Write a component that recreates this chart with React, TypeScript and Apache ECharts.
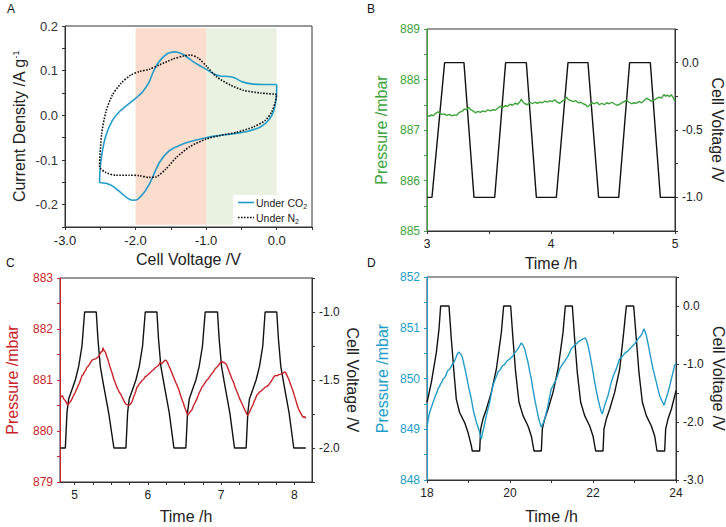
import React, { useEffect, useRef } from 'react';
import * as echarts from 'echarts';

// ---------- Panel A: cyclic voltammetry ----------
const cvCO2: number[][] = [
  [0.0, 0.069], [-0.2, 0.069], [-0.38, 0.071], [-0.5, 0.076], [-0.6, 0.084], [-0.69, 0.087],
  [-0.8, 0.088], [-0.88, 0.092], [-1.0, 0.103], [-1.1, 0.112], [-1.19, 0.121], [-1.3, 0.134],
  [-1.38, 0.140], [-1.45, 0.142], [-1.52, 0.140], [-1.57, 0.136], [-1.63, 0.127], [-1.69, 0.115],
  [-1.75, 0.097], [-1.81, 0.074], [-1.9, 0.053], [-2.0, 0.038], [-2.11, 0.024], [-2.23, 0.008],
  [-2.33, -0.012], [-2.42, -0.045], [-2.47, -0.080], [-2.5, -0.115], [-2.51, -0.150],
  [-2.42, -0.152], [-2.33, -0.158], [-2.21, -0.173], [-2.11, -0.186], [-2.04, -0.190],
  [-1.97, -0.188], [-1.88, -0.173], [-1.81, -0.155], [-1.76, -0.139], [-1.66, -0.105],
  [-1.52, -0.079], [-1.33, -0.064], [-1.14, -0.055], [-1.0, -0.050], [-0.85, -0.046],
  [-0.61, -0.041], [-0.42, -0.036], [-0.23, -0.026], [-0.11, -0.010], [-0.04, 0.011],
  [-0.005, 0.041], [0.0, 0.069],
];
const cvN2: number[][] = [
  [0.0, 0.047], [-0.23, 0.050], [-0.47, 0.056], [-0.66, 0.068], [-0.85, 0.086], [-0.99, 0.109],
  [-1.11, 0.128], [-1.22, 0.135], [-1.32, 0.133], [-1.47, 0.126], [-1.66, 0.113], [-1.81, 0.103],
  [-1.95, 0.098], [-2.07, 0.090], [-2.21, 0.071], [-2.33, 0.045], [-2.42, 0.008], [-2.48, -0.041],
  [-2.51, -0.115], [-2.42, -0.128], [-2.28, -0.134], [-2.09, -0.134], [-1.95, -0.135],
  [-1.81, -0.139], [-1.71, -0.138], [-1.57, -0.120], [-1.42, -0.094], [-1.23, -0.070],
  [-1.0, -0.053], [-0.8, -0.045], [-0.57, -0.038], [-0.33, -0.026], [-0.16, -0.011],
  [-0.07, 0.008], [-0.02, 0.030], [0.0, 0.047],
];
const aXTicks = [-3, -2.5, -2, -1.5, -1, -0.5, 0, 0.5];
const aXLabels = [-3, -2, -1, 0];
const aYTicks = [-0.25, -0.2, -0.15, -0.1, -0.05, 0, 0.05, 0.1, 0.15, 0.2];
const aYLabels = [-0.2, -0.1, 0, 0.1, 0.2];
const aLegend = ['Under CO{sub|2}', 'Under N{sub|2}'];

// ---------- Panel B ----------
const bVoltage: number[][] = [
  [3.0, -1], [3.04, -1], [3.142, 0], [3.298, 0], [3.379, -1], [3.546, -1], [3.634, 0], [3.801, 0],
  [3.882, -1], [4.043, -1], [4.137, 0], [4.298, 0], [4.384, -1], [4.546, -1], [4.634, 0],
  [4.801, 0], [4.882, -1], [5.0, -1],
];
const bPressure: number[][] = [
  [3.00, 887.29], [3.02, 887.27], [3.035, 887.30], [3.05, 887.28], [3.07, 887.33], [3.09, 887.36],
  [3.10, 887.34], [3.12, 887.31], [3.14, 887.32], [3.16, 887.29], [3.18, 887.31], [3.20, 887.28],
  [3.22, 887.30], [3.24, 887.29], [3.255, 887.34], [3.27, 887.36], [3.29, 887.38], [3.30, 887.42],
  [3.32, 887.40], [3.335, 887.45], [3.35, 887.41], [3.37, 887.38], [3.39, 887.34], [3.41, 887.37],
  [3.43, 887.35], [3.45, 887.38], [3.47, 887.36], [3.49, 887.40], [3.51, 887.38], [3.53, 887.40],
  [3.55, 887.39], [3.57, 887.43], [3.59, 887.47], [3.61, 887.44], [3.63, 887.48], [3.65, 887.47],
  [3.67, 887.51], [3.69, 887.49], [3.71, 887.53], [3.73, 887.51], [3.75, 887.56], [3.76, 887.61],
  [3.775, 887.55], [3.79, 887.52], [3.81, 887.50], [3.83, 887.55], [3.85, 887.52], [3.87, 887.55],
  [3.89, 887.53], [3.91, 887.55], [3.93, 887.54], [3.95, 887.57], [3.97, 887.55], [3.99, 887.58],
  [4.01, 887.56], [4.03, 887.60], [4.05, 887.55], [4.07, 887.53], [4.09, 887.57], [4.11, 887.60],
  [4.125, 887.65], [4.14, 887.60], [4.16, 887.58], [4.18, 887.56], [4.20, 887.58], [4.22, 887.54],
  [4.24, 887.55], [4.26, 887.52], [4.28, 887.50], [4.295, 887.46], [4.31, 887.49], [4.33, 887.54],
  [4.35, 887.52], [4.37, 887.55], [4.39, 887.50], [4.41, 887.53], [4.43, 887.50], [4.45, 887.54],
  [4.47, 887.52], [4.49, 887.55], [4.51, 887.52], [4.53, 887.49], [4.555, 887.51], [4.57, 887.54],
  [4.59, 887.56], [4.61, 887.59], [4.63, 887.55], [4.65, 887.52], [4.67, 887.54], [4.69, 887.53],
  [4.71, 887.56], [4.73, 887.54], [4.75, 887.58], [4.77, 887.63], [4.79, 887.60], [4.81, 887.57],
  [4.83, 887.59], [4.85, 887.62], [4.87, 887.65], [4.89, 887.63], [4.91, 887.70], [4.925, 887.67],
  [4.94, 887.69], [4.955, 887.66], [4.97, 887.70], [4.985, 887.64], [5.00, 887.57],
];
const bXTicks = [3, 3.5, 4, 4.5, 5];
const bXLabels = [3, 4, 5];
const bPTicks = [885, 885.5, 886, 886.5, 887, 887.5, 888, 888.5, 889];
const bPLabels = [885, 886, 887, 888, 889];
const bVTicks = [-1.25, -1, -0.75, -0.5, -0.25, 0, 0.25];
const bVLabels = [-1, -0.5, 0];

// ---------- Panel C ----------
const cVoltage: number[][] = [
  [4.805, -2.0], [4.873, -2.0], [4.895, -1.74], [4.918, -1.64], [4.964, -1.57], [5.009, -1.50],
  [5.055, -1.40], [5.1, -1.25], [5.136, -1.0], [5.295, -1.0], [5.318, -1.20], [5.35, -1.40],
  [5.395, -1.54], [5.464, -1.74], [5.536, -2.0], [5.70, -2.0],
  [5.723, -1.74], [5.745, -1.64], [5.791, -1.57], [5.836, -1.50], [5.882, -1.40], [5.927, -1.25],
  [5.964, -1.0], [6.123, -1.0], [6.145, -1.2], [6.177, -1.4], [6.223, -1.54], [6.291, -1.74],
  [6.355, -2.0], [6.518, -2.0],
  [6.541, -1.74], [6.564, -1.64], [6.609, -1.57], [6.655, -1.5], [6.7, -1.4], [6.745, -1.25],
  [6.782, -1.0], [6.95, -1.0], [6.973, -1.2], [7.005, -1.4], [7.05, -1.54], [7.118, -1.74],
  [7.182, -2.0], [7.341, -2.0],
  [7.364, -1.74], [7.386, -1.64], [7.432, -1.57], [7.477, -1.5], [7.523, -1.4], [7.568, -1.25],
  [7.6, -1.0], [7.759, -1.0], [7.782, -1.2], [7.814, -1.4], [7.859, -1.54], [7.927, -1.74],
  [7.991, -2.0], [8.155, -2.0],
];
const cPressure: number[][] = [
  [4.805, 880.70], [4.82, 880.67], [4.835, 880.69], [4.85, 880.63], [4.87, 880.60], [4.89, 880.55],
  [4.909, 880.50], [4.93, 880.56], [4.945, 880.58], [4.964, 880.63], [4.98, 880.68], [4.99, 880.71],
  [5.01, 880.76], [5.02, 880.80], [5.032, 880.83], [5.05, 880.90], [5.06, 880.92], [5.08, 881.00],
  [5.09, 881.04], [5.1, 881.09], [5.115, 881.10], [5.13, 881.15], [5.15, 881.19], [5.168, 881.25],
  [5.185, 881.27], [5.2, 881.30], [5.22, 881.35], [5.236, 881.39], [5.255, 881.40], [5.27, 881.41],
  [5.29, 881.42], [5.305, 881.43], [5.32, 881.45], [5.33, 881.47], [5.35, 881.52], [5.365, 881.56],
  [5.375, 881.55], [5.386, 881.63], [5.395, 881.60], [5.40, 881.58], [5.418, 881.55], [5.43, 881.50],
  [5.44, 881.45], [5.455, 881.40], [5.464, 881.35], [5.48, 881.27], [5.50, 881.18], [5.515, 881.12],
  [5.532, 881.03], [5.555, 880.94], [5.577, 880.86], [5.59, 880.82], [5.61, 880.76], [5.63, 880.72],
  [5.645, 880.67], [5.67, 880.60], [5.691, 880.54], [5.71, 880.52], [5.736, 880.50], [5.76, 880.52],
  [5.782, 880.57], [5.80, 880.65], [5.82, 880.72], [5.835, 880.78], [5.85, 880.86], [5.865, 880.88],
  [5.88, 880.92], [5.9, 880.95], [5.918, 880.99], [5.94, 881.01], [5.96, 881.06], [5.985, 881.08],
  [6.009, 881.12], [6.03, 881.14], [6.05, 881.17], [6.075, 881.20], [6.1, 881.24], [6.12, 881.26],
  [6.14, 881.28], [6.155, 881.31], [6.168, 881.35], [6.185, 881.32], [6.20, 881.33], [6.22, 881.37],
  [6.236, 881.39], [6.25, 881.38], [6.26, 881.36], [6.272, 881.33], [6.282, 881.29], [6.31, 881.20],
  [6.33, 881.13], [6.35, 881.06], [6.38, 880.95], [6.40, 880.89], [6.418, 880.83], [6.45, 880.68],
  [6.47, 880.60], [6.486, 880.54], [6.5, 880.47], [6.515, 880.42], [6.53, 880.36], [6.545, 880.31],
  [6.56, 880.34], [6.57, 880.36], [6.585, 880.39], [6.6, 880.41], [6.615, 880.47], [6.63, 880.52],
  [6.65, 880.57], [6.668, 880.63], [6.685, 880.69], [6.70, 880.75], [6.72, 880.80], [6.736, 880.86],
  [6.76, 880.90], [6.78, 880.95], [6.80, 880.99], [6.827, 881.03], [6.85, 881.08], [6.87, 881.12],
  [6.895, 881.16], [6.918, 881.22], [6.94, 881.25], [6.96, 881.28], [6.985, 881.33], [7.009, 881.37],
  [7.025, 881.34], [7.04, 881.35], [7.06, 881.32], [7.077, 881.29], [7.095, 881.22], [7.11, 881.16],
  [7.13, 881.09], [7.145, 881.03], [7.17, 880.95], [7.19, 880.86], [7.21, 880.79], [7.236, 880.70],
  [7.25, 880.64], [7.27, 880.58], [7.29, 880.52], [7.305, 880.47], [7.32, 880.42], [7.335, 880.38],
  [7.35, 880.33], [7.364, 880.31], [7.38, 880.35], [7.39, 880.38], [7.405, 880.43], [7.418, 880.47],
  [7.435, 880.52], [7.45, 880.58], [7.47, 880.64], [7.486, 880.70], [7.50, 880.72], [7.52, 880.76],
  [7.535, 880.77], [7.555, 880.80], [7.58, 880.83], [7.60, 880.86], [7.62, 880.87], [7.645, 880.90],
  [7.665, 880.94], [7.69, 880.99], [7.71, 881.04], [7.736, 881.09], [7.76, 881.08], [7.78, 881.10],
  [7.80, 881.11], [7.827, 881.12], [7.85, 881.14], [7.873, 881.16], [7.885, 881.13], [7.895, 881.10],
  [7.918, 881.03], [7.935, 880.97], [7.95, 880.90], [7.97, 880.83], [7.986, 880.76], [8.0, 880.69],
  [8.02, 880.60], [8.035, 880.52], [8.055, 880.44], [8.07, 880.39], [8.09, 880.34], [8.105, 880.30],
  [8.123, 880.27], [8.14, 880.28], [8.155, 880.25],
];
const cXTicks = [5, 5.25, 5.5, 5.75, 6, 6.25, 6.5, 6.75, 7, 7.25, 7.5, 7.75, 8];
const cXLabels = [5, 6, 7, 8];
const cPTicks = [879, 879.5, 880, 880.5, 881, 881.5, 882, 882.5, 883];
const cPLabels = [879, 880, 881, 882, 883];
const cVTicks = [-2.25, -2, -1.75, -1.5, -1.25, -1, -0.75];
const cVLabels = [-2, -1.5, -1];

// ---------- Panel D ----------
const dVoltage: number[][] = [
  [18.0, -1.66], [18.104, -1.32], [18.225, -0.80], [18.289, -0.40], [18.329, 0], [18.53, 0],
  [18.586, -0.57], [18.651, -1.15], [18.707, -1.61], [18.787, -1.84], [18.908, -2.01],
  [18.988, -2.18], [19.068, -2.41], [19.092, -2.5], [19.269, -2.5],
  [19.293, -2.12], [19.349, -1.95], [19.43, -1.78], [19.55, -1.49], [19.671, -1.09],
  [19.791, -0.46], [19.847, 0], [20.016, 0], [20.072, -0.57], [20.137, -1.15], [20.217, -1.66],
  [20.313, -1.89], [20.434, -2.07], [20.514, -2.24], [20.578, -2.5], [20.755, -2.5],
  [20.779, -2.12], [20.835, -1.95], [20.916, -1.78], [21.036, -1.49], [21.157, -1.09],
  [21.277, -0.46], [21.333, 0], [21.502, 0], [21.558, -0.57], [21.622, -1.15], [21.703, -1.66],
  [21.799, -1.89], [21.92, -2.07], [22.0, -2.24], [22.064, -2.5], [22.241, -2.5],
  [22.265, -2.12], [22.321, -1.95], [22.402, -1.78], [22.522, -1.49], [22.643, -1.09],
  [22.739, -0.46], [22.803, 0], [22.98, 0], [23.044, -0.57], [23.108, -1.15], [23.189, -1.66],
  [23.285, -1.89], [23.406, -2.07], [23.486, -2.24], [23.542, -2.5], [23.727, -2.5],
  [23.751, -2.12], [23.807, -1.95], [23.888, -1.78], [24.0, -1.46],
];
const dPressure: number[][] = [
  [18.0, 849.04], [18.03, 849.20], [18.064, 849.34], [18.1, 849.42], [18.145, 849.53],
  [18.17, 849.58], [18.2, 849.66], [18.23, 849.70], [18.265, 849.80], [18.3, 849.84],
  [18.33, 849.90], [18.36, 849.93], [18.386, 849.99], [18.42, 850.01], [18.45, 850.05],
  [18.48, 850.12], [18.506, 850.16], [18.53, 850.17], [18.56, 850.20], [18.595, 850.26],
  [18.627, 850.29], [18.655, 850.33], [18.68, 850.38], [18.70, 850.42], [18.723, 850.47],
  [18.745, 850.50], [18.771, 850.52], [18.79, 850.50], [18.81, 850.48], [18.83, 850.46],
  [18.851, 850.42], [18.89, 850.28], [18.932, 850.13], [18.97, 849.97], [19.012, 849.80],
  [19.04, 849.70], [19.068, 849.60], [19.1, 849.45], [19.124, 849.34], [19.155, 849.25],
  [19.189, 849.14], [19.23, 849.04], [19.269, 848.94], [19.29, 848.86], [19.309, 848.81],
  [19.335, 848.92], [19.365, 849.01], [19.4, 849.16], [19.43, 849.27], [19.47, 849.40],
  [19.51, 849.53], [19.55, 849.70], [19.59, 849.86], [19.62, 849.93], [19.65, 850.00],
  [19.68, 850.06], [19.711, 850.13], [19.74, 850.15], [19.77, 850.18], [19.80, 850.23],
  [19.831, 850.26], [19.86, 850.27], [19.89, 850.30], [19.92, 850.34], [19.952, 850.36],
  [19.98, 850.37], [20.01, 850.40], [20.04, 850.42], [20.072, 850.45], [20.10, 850.49],
  [20.13, 850.52], [20.16, 850.55], [20.193, 850.59], [20.23, 850.64], [20.273, 850.70],
  [20.31, 850.66], [20.353, 850.59], [20.39, 850.46], [20.434, 850.32], [20.47, 850.16],
  [20.514, 849.99], [20.55, 849.80], [20.594, 849.60], [20.635, 849.43], [20.675, 849.27],
  [20.715, 849.14], [20.755, 849.04], [20.795, 849.11], [20.835, 849.20], [20.875, 849.33],
  [20.916, 849.47], [20.955, 849.64], [20.996, 849.80], [21.03, 849.84], [21.06, 849.90],
  [21.09, 849.94], [21.116, 849.99], [21.155, 850.08], [21.197, 850.19], [21.24, 850.25],
  [21.28, 850.30], [21.32, 850.34], [21.357, 850.39], [21.39, 850.43], [21.42, 850.48],
  [21.45, 850.53], [21.478, 850.59], [21.52, 850.62], [21.56, 850.66], [21.60, 850.68],
  [21.639, 850.72], [21.70, 850.75], [21.759, 850.78], [21.79, 850.79], [21.815, 850.80],
  [21.85, 850.74], [21.88, 850.65], [21.92, 850.49], [21.96, 850.32], [22.0, 850.13],
  [22.04, 849.93], [22.08, 849.76], [22.12, 849.60], [22.16, 849.46], [22.201, 849.34],
  [22.225, 849.30], [22.25, 849.38], [22.281, 849.47], [22.32, 849.56], [22.361, 849.66],
  [22.40, 849.79], [22.442, 849.93], [22.47, 850.00], [22.5, 850.08], [22.53, 850.13],
  [22.562, 850.19], [22.60, 850.29], [22.643, 850.39], [22.68, 850.41], [22.72, 850.45],
  [22.76, 850.49], [22.803, 850.52], [22.84, 850.54], [22.88, 850.58], [22.92, 850.61],
  [22.964, 850.65], [23.0, 850.68], [23.04, 850.72], [23.08, 850.77], [23.124, 850.82],
  [23.15, 850.84], [23.18, 850.88], [23.205, 850.93], [23.229, 850.98], [23.255, 850.92],
  [23.285, 850.85], [23.325, 850.69], [23.365, 850.52], [23.405, 850.35], [23.446, 850.19],
  [23.485, 850.06], [23.526, 849.93], [23.565, 849.79], [23.606, 849.66], [23.66, 849.56],
  [23.711, 849.47], [23.76, 849.60], [23.807, 849.73], [23.85, 849.86], [23.888, 849.99],
  [23.93, 850.13], [23.968, 850.26], [24.0, 850.29],
];
const dXTicks = [18, 19, 20, 21, 22, 23, 24];
const dXLabels = [18, 20, 22, 24];
const dPTicks = [848, 848.5, 849, 849.5, 850, 850.5, 851, 851.5, 852];
const dPLabels = [848, 849, 850, 851, 852];
const dVTicks = [-3, -2.5, -2, -1.5, -1, -0.5, 0, 0.5];
const dVLabels = [-3, -2, -1, 0];

const FONT = '"Liberation Sans", Arial, sans-serif';
const INK = '#222';
const BLUE = '#229cc8';
const GREEN = '#3da33a';
const RED = '#c8232b';
const NAME_SIZE = 16;

function xAxis(gridIndex: number, min: number, max: number, ticks: number[], labels: number[], fmt: (v: number) => string, name: string, nameGap: number, labelSize = 12) {
  return {
    type: 'value', gridIndex, min, max, position: 'bottom',
    name, nameLocation: 'middle', nameGap,
    nameTextStyle: { fontSize: NAME_SIZE, color: INK, fontFamily: FONT },
    axisLine: { show: true, onZero: false, lineStyle: { color: '#333', width: 1 } },
    axisTick: { show: true, length: 3, customValues: ticks, lineStyle: { color: '#333' } },
    axisLabel: { customValues: labels, formatter: fmt, fontSize: labelSize, color: INK, margin: 7, fontFamily: FONT },
    splitLine: { show: false },
  };
}

function yAxis(gridIndex: number, min: number, max: number, ticks: number[], labels: number[], fmt: (v: number) => string, name: string, nameGap: number, color: string, right: boolean, nameColor?: string, rich?: any, labelSize = 12) {
  return {
    type: 'value', gridIndex, min, max, position: right ? 'right' : 'left',
    name, nameLocation: 'middle', nameGap, nameRotate: right ? -90 : 90,
    nameTextStyle: { fontSize: NAME_SIZE, color: nameColor || color, fontFamily: FONT, rich },
    axisLine: { show: true, onZero: false, lineStyle: { color: right ? '#333' : color, width: 1 } },
    axisTick: { show: true, length: 3, customValues: ticks, lineStyle: { color: right ? '#333' : color } },
    axisLabel: { customValues: labels, formatter: fmt, fontSize: labelSize, color: right ? INK : color, margin: 7, fontFamily: FONT },
    splitLine: { show: false },
  };
}

const f1 = (v: number) => v.toFixed(1);
const f0 = (v: number) => String(Math.round(v));

const gridBase = { show: true, borderColor: '#333', borderWidth: 1, containLabel: false, outerBoundsMode: 'none' };
const subRich = { sub: { fontSize: 7, verticalAlign: 'bottom', lineHeight: 6, fontFamily: FONT, fill: INK, color: INK } };

const option: any = {
  animation: false,
  backgroundColor: '#fff',
  textStyle: { fontFamily: FONT },
  grid: [
    { ...gridBase, left: 65, top: 26, width: 247, height: 201 },
    { ...gridBase, left: 427, top: 29, width: 248, height: 202 },
    { ...gridBase, left: 60, top: 278, width: 252, height: 204 },
    { ...gridBase, left: 427, top: 277, width: 249, height: 203 },
  ],
  xAxis: [
    xAxis(0, -3, 0.5, aXTicks, aXLabels, f1, 'Cell Voltage /V', 24, 13),
    xAxis(1, 3, 5, bXTicks, bXLabels, f0, 'Time /h', 24),
    xAxis(2, 4.8, 8.24, cXTicks, cXLabels, f0, 'Time /h', 26),
    xAxis(3, 18, 24, dXTicks, dXLabels, f0, 'Time /h', 28),
  ],
  yAxis: [
    yAxis(0, -0.25, 0.2, aYTicks, aYLabels, f1, 'Current Density /A g{sup|-1}', 38, '#333', false, INK,
      { sup: { fontSize: 9, verticalAlign: 'top', lineHeight: 10, fontFamily: FONT, color: INK } }, 13),
    yAxis(1, 885, 889, bPTicks, bPLabels, f0, 'Pressure /mbar', 38, GREEN, false),
    yAxis(1, -1.25, 0.25, bVTicks, bVLabels, f1, 'Cell Voltage /V', 34, '#333', true, INK),
    yAxis(2, 879, 883, cPTicks, cPLabels, f0, 'Pressure /mbar', 40, RED, false),
    yAxis(2, -2.25, -0.75, cVTicks, cVLabels, f1, 'Cell Voltage /V', 32, '#333', true, INK),
    yAxis(3, 848, 852, dPTicks, dPLabels, f0, 'Pressure /mbar', 37, BLUE, false),
    yAxis(3, -3, 0.5, dVTicks, dVLabels, f1, 'Cell Voltage /V', 34, '#333', true, INK),
  ],
  graphic: [
    { type: 'rect', z: 5, shape: { x: 233, y: 195, width: 78, height: 31 }, style: { fill: '#fff' } },
    { type: 'line', z: 6, shape: { x1: 238, y1: 202.5, x2: 254, y2: 202.5 }, style: { stroke: BLUE, lineWidth: 1.6 } },
    { type: 'line', z: 6, shape: { x1: 238, y1: 217.5, x2: 254, y2: 217.5 }, style: { stroke: '#111', lineWidth: 1.6, lineDash: [1.6, 1.4] } },
    { type: 'text', z: 6, x: 256, y: 202.5, style: { text: aLegend[0], fontSize: 10.5, fill: INK, fontFamily: FONT, verticalAlign: 'middle', lineHeight: 14, rich: subRich } },
    { type: 'text', z: 6, x: 256, y: 217.5, style: { text: aLegend[1], fontSize: 10.5, fill: INK, fontFamily: FONT, verticalAlign: 'middle', lineHeight: 14, rich: subRich } },
    { type: 'text', left: 7, top: 3, style: { text: 'A', fontSize: 12, fill: '#111', fontFamily: FONT } },
    { type: 'text', left: 367, top: 3, style: { text: 'B', fontSize: 12, fill: '#111', fontFamily: FONT } },
    { type: 'text', left: 6, top: 257, style: { text: 'C', fontSize: 12, fill: '#111', fontFamily: FONT } },
    { type: 'text', left: 367, top: 257, style: { text: 'D', fontSize: 12, fill: '#111', fontFamily: FONT } },
  ],
  series: [
    {
      type: 'line', xAxisIndex: 0, yAxisIndex: 0, data: [], z: 1, silent: true,
      markArea: {
        silent: true,
        data: [
          [{ xAxis: -2, yAxis: -0.245, itemStyle: { color: '#fcdccd' } }, { xAxis: -1, yAxis: 0.195 }],
          [{ xAxis: -1, yAxis: -0.245, itemStyle: { color: '#e9f1e1' } }, { xAxis: 0, yAxis: 0.195 }],
        ],
      },
    },
    {
      name: 'Under CO2', type: 'line', xAxisIndex: 0, yAxisIndex: 0, data: cvCO2, symbol: 'none',
      smooth: 0.25, color: BLUE, lineStyle: { color: BLUE, width: 1.6 }, z: 3,
    },
    {
      name: 'Under N2', type: 'line', xAxisIndex: 0, yAxisIndex: 0, data: cvN2, symbol: 'none',
      smooth: 0.25, color: '#111', lineStyle: { color: '#111', width: 1.6, type: [1.6, 1.4] }, z: 3,
    },
    {
      type: 'line', xAxisIndex: 1, yAxisIndex: 2, data: bVoltage, symbol: 'none',
      lineStyle: { color: '#111', width: 1.4 }, z: 2,
    },
    {
      type: 'line', xAxisIndex: 1, yAxisIndex: 1, data: bPressure, symbol: 'none',
      lineStyle: { color: GREEN, width: 1.4 }, z: 3,
    },
    {
      type: 'line', xAxisIndex: 2, yAxisIndex: 4, data: cVoltage, symbol: 'none',
      lineStyle: { color: '#111', width: 1.4 }, z: 2,
    },
    {
      type: 'line', xAxisIndex: 2, yAxisIndex: 3, data: cPressure, symbol: 'none',
      lineStyle: { color: RED, width: 1.4 }, z: 3,
    },
    {
      type: 'line', xAxisIndex: 3, yAxisIndex: 6, data: dVoltage, symbol: 'none',
      lineStyle: { color: '#111', width: 1.4 }, z: 2,
    },
    {
      type: 'line', xAxisIndex: 3, yAxisIndex: 5, data: dPressure, symbol: 'none',
      lineStyle: { color: BLUE, width: 1.4 }, z: 3,
    },
  ],
};

export default function App() {
  const ref = useRef<HTMLDivElement>(null);
  useEffect(() => {
    if (!ref.current) return;
    const chart = echarts.init(ref.current, null, { renderer: 'svg' });
    chart.setOption(option);
    return () => chart.dispose();
  }, []);
  return (
    <div
      ref={ref}
      style={{ position: 'fixed', left: 0, top: 0, width: 726, height: 527, background: '#fff' }}
    />
  );
}
